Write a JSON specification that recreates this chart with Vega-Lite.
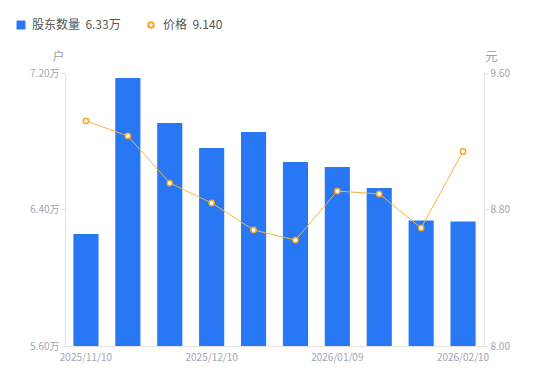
{
  "$schema": "https://vega.github.io/schema/vega-lite/v6.json",
  "autosize": {"type": "none"},
  "width": 419,
  "height": 273,
  "padding": {"left": 65, "top": 73, "right": 66, "bottom": 35},
  "config": {
    "font": "Noto Sans CJK SC",
    "view": {"stroke": null},
    "axis": {"grid": false, "labelColor": "#a3a3b3", "labelFontSize": 10, "domainColor": "#e3e3e3", "tickColor": "#e3e3e3", "titleColor": "#9a9aa8", "titleFontWeight": "normal", "titleFontSize": 12}
  },
  "data": {"values": [
    {"date": "2025/11/10", "holders": 6.256, "price": 9.319},
    {"date": "2025/11/20", "holders": 7.171, "price": 9.231},
    {"date": "2025/11/30", "holders": 6.907, "price": 8.955},
    {"date": "2025/12/10", "holders": 6.760, "price": 8.838},
    {"date": "2025/12/20", "holders": 6.854, "price": 8.680},
    {"date": "2025/12/31", "holders": 6.678, "price": 8.621},
    {"date": "2026/01/09", "holders": 6.649, "price": 8.908},
    {"date": "2026/01/20", "holders": 6.526, "price": 8.891},
    {"date": "2026/01/31", "holders": 6.335, "price": 8.692},
    {"date": "2026/02/10", "holders": 6.330, "price": 9.140}
  ]},
  "encoding": {
    "x": {"field": "date", "type": "ordinal", "sort": null,
      "scale": {"paddingInner": 0.4, "paddingOuter": 0.2},
      "axis": {"title": null, "labelAngle": 0, "ticks": false, "labelPadding": 6,
        "labelExpr": "indexof(['2025/11/10','2025/12/10','2026/01/09','2026/02/10'], datum.value) >= 0 ? datum.value : ''"}}
  },
  "layer": [
    {
      "mark": {"type": "bar", "color": "#2878f5"},
      "encoding": {
        "y": {"field": "holders", "type": "quantitative",
          "scale": {"domain": [5.6, 7.2], "zero": false, "nice": false},
          "axis": {"values": [5.6, 6.4, 7.2], "labelExpr": "format(datum.value, '.2f') + '万'", "tickSize": 4,
            "title": "户", "titleAngle": 0, "titleX": -7, "titleY": -10, "titleAlign": "center", "titleBaseline": "bottom"}},
        "y2": {"datum": 5.6},
        "color": {"datum": "股东数量", "type": "nominal",
          "scale": {"domain": ["股东数量"], "range": ["#2878f5"]},
          "legend": {"orient": "none", "direction": "horizontal", "legendX": -50, "legendY": -54, "title": null,
            "labelExpr": "'股东数量\u00a0\u00a06.33万'", "symbolType": "square",
            "labelColor": "#555", "labelFontSize": 12, "symbolSize": 80, "labelOffset": 5}}
      }
    },
    {
      "mark": {"type": "line", "color": "#f7b240", "strokeWidth": 1},
      "encoding": {
        "y": {"field": "price", "type": "quantitative",
          "scale": {"domain": [8.0, 9.6], "zero": false, "nice": false},
          "axis": {"orient": "right", "values": [8.0, 8.8, 9.6], "format": ".2f", "tickSize": 4,
            "title": "元", "titleAngle": 0, "titleX": 7, "titleY": -10, "titleAlign": "center", "titleBaseline": "bottom"}}
      }
    },
    {
      "mark": {"type": "point", "filled": false, "fill": "white", "strokeWidth": 1.5, "size": 28, "opacity": 1},
      "encoding": {
        "y": {"field": "price", "type": "quantitative", "scale": {"domain": [8.0, 9.6], "zero": false, "nice": false}, "axis": null},
        "stroke": {"datum": "价格", "type": "nominal",
          "scale": {"domain": ["价格"], "range": ["#f5a623"]},
          "legend": {"orient": "none", "direction": "horizontal", "legendX": 80, "legendY": -54, "title": null,
            "labelExpr": "'价格\u00a0\u00a09.140'", "symbolType": "circle", "symbolFillColor": "white", "symbolStrokeWidth": 2,
            "labelColor": "#555", "labelFontSize": 12, "symbolSize": 30, "labelOffset": 6}}
      }
    }
  ],
  "resolve": {"scale": {"y": "independent"}}
}
